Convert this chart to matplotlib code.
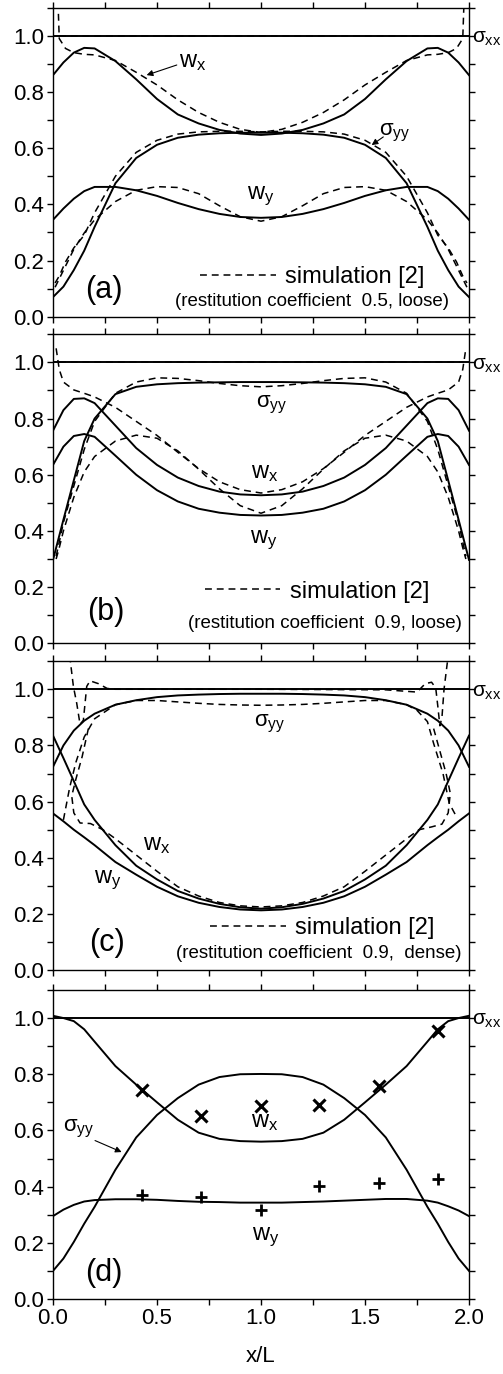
import matplotlib
matplotlib.use("Agg")
import matplotlib.pyplot as plt
from matplotlib.lines import Line2D
from matplotlib.ticker import MultipleLocator

plt.rcParams['font.family'] = ['Liberation Sans', 'DejaVu Sans']
plt.rcParams['mathtext.fontset'] = 'custom'
plt.rcParams['mathtext.rm'] = 'Liberation Sans'
plt.rcParams['mathtext.it'] = 'Liberation Sans'
plt.rcParams['mathtext.bf'] = 'Liberation Sans:bold'

# common x grid of the theory curves
x_th = [0, 0.05, 0.1, 0.15, 0.2, 0.3, 0.4, 0.5, 0.6, 0.7, 0.8, 0.9, 1.0,
        1.1, 1.2, 1.3, 1.4, 1.5, 1.6, 1.7, 1.8, 1.85, 1.9, 1.95, 2.0]

# ---- panel (a): restitution 0.5, loose
wx_a = [0.86, 0.905, 0.94, 0.957, 0.955, 0.91, 0.845, 0.775, 0.72, 0.688, 0.665, 0.652, 0.647,
        0.652, 0.665, 0.688, 0.72, 0.775, 0.845, 0.91, 0.955, 0.957, 0.94, 0.905, 0.86]
syy_a = [0.07, 0.107, 0.166, 0.235, 0.32, 0.475, 0.565, 0.612, 0.637, 0.648, 0.653, 0.655, 0.655,
         0.655, 0.653, 0.648, 0.637, 0.612, 0.565, 0.475, 0.32, 0.235, 0.166, 0.107, 0.07]
wy_a = [0.345, 0.385, 0.42, 0.447, 0.462, 0.462, 0.45, 0.43, 0.405, 0.383, 0.366, 0.355, 0.352,
        0.355, 0.366, 0.383, 0.405, 0.43, 0.45, 0.462, 0.462, 0.447, 0.42, 0.385, 0.345]

x_sim_a1 = [0.024, 0.03, 0.06, 0.1, 0.15, 0.2, 0.3, 0.4, 0.5, 0.6, 0.7, 0.8, 0.9, 1.0,
            1.1, 1.2, 1.3, 1.4, 1.5, 1.6, 1.7, 1.8, 1.85, 1.9, 1.94, 1.97, 1.976]
wx_sim_a = [1.12, 0.99, 0.955, 0.94, 0.934, 0.932, 0.912, 0.87, 0.825, 0.772, 0.727, 0.692, 0.667, 0.656,
            0.667, 0.692, 0.727, 0.772, 0.825, 0.87, 0.912, 0.932, 0.934, 0.94, 0.955, 0.99, 1.12]
x_sim_a2 = [0.01, 0.03, 0.06, 0.1, 0.15, 0.2, 0.3, 0.4, 0.5, 0.6, 0.7, 0.8, 0.9, 1.0,
            1.1, 1.2, 1.3, 1.4, 1.5, 1.6, 1.7, 1.8, 1.85, 1.9, 1.94, 1.97, 1.99]
syy_sim_a = [0.12, 0.145, 0.195, 0.245, 0.29, 0.37, 0.5, 0.585, 0.628, 0.65, 0.658, 0.66, 0.66, 0.658,
             0.66, 0.66, 0.658, 0.65, 0.628, 0.585, 0.5, 0.37, 0.29, 0.245, 0.195, 0.145, 0.12]
wy_sim_a = [0.105, 0.135, 0.18, 0.24, 0.298, 0.345, 0.41, 0.45, 0.463, 0.46, 0.438, 0.395, 0.356, 0.34,
            0.356, 0.395, 0.438, 0.46, 0.463, 0.45, 0.41, 0.345, 0.298, 0.24, 0.18, 0.135, 0.105]
x_sxx_sim_a = [0.03, 1.97]
sxx_sim_a = [1.0, 1.0]

# ---- panel (b): restitution 0.9, loose
wx_b = [0.757, 0.83, 0.87, 0.872, 0.855, 0.775, 0.695, 0.635, 0.59, 0.56, 0.54, 0.53, 0.527,
        0.53, 0.54, 0.56, 0.59, 0.635, 0.695, 0.775, 0.855, 0.872, 0.87, 0.83, 0.757]
wy_b = [0.635, 0.70, 0.738, 0.745, 0.735, 0.668, 0.60, 0.545, 0.505, 0.479, 0.465, 0.457, 0.455,
        0.457, 0.465, 0.479, 0.505, 0.545, 0.60, 0.668, 0.735, 0.745, 0.738, 0.70, 0.635]
syy_b = [0.297, 0.44, 0.58, 0.72, 0.80, 0.887, 0.913, 0.922, 0.926, 0.928, 0.929, 0.93, 0.93,
         0.93, 0.929, 0.928, 0.926, 0.922, 0.913, 0.887, 0.80, 0.72, 0.58, 0.44, 0.297]

x_sim_b = [0.015, 0.03, 0.05, 0.1, 0.15, 0.2, 0.3, 0.4, 0.5, 0.6, 0.7, 0.8, 0.9, 1.0,
           1.1, 1.2, 1.3, 1.4, 1.5, 1.6, 1.7, 1.8, 1.85, 1.9, 1.95, 1.97, 1.985]
wx_sim_b = [1.05, 0.975, 0.93, 0.902, 0.89, 0.877, 0.84, 0.79, 0.74, 0.68, 0.622, 0.575, 0.547, 0.535,
            0.547, 0.575, 0.622, 0.68, 0.74, 0.79, 0.84, 0.877, 0.89, 0.902, 0.93, 0.975, 1.05]
syy_sim_b = [0.31, 0.36, 0.43, 0.56, 0.69, 0.79, 0.89, 0.93, 0.945, 0.943, 0.935, 0.925, 0.917, 0.913,
             0.917, 0.925, 0.935, 0.943, 0.945, 0.93, 0.89, 0.79, 0.69, 0.56, 0.43, 0.36, 0.31]
wy_sim_b = [0.30, 0.34, 0.40, 0.52, 0.61, 0.665, 0.72, 0.741, 0.73, 0.685, 0.62, 0.55, 0.49, 0.463,
            0.49, 0.55, 0.62, 0.685, 0.73, 0.741, 0.72, 0.665, 0.61, 0.52, 0.40, 0.34, 0.30]
x_sxx_sim_b = [0.03, 1.97]
sxx_sim_b = [1.0, 1.0]

# ---- panel (c): restitution 0.9, dense
syy_c = [0.724, 0.80, 0.853, 0.888, 0.913, 0.945, 0.961, 0.972, 0.978, 0.981, 0.983, 0.984, 0.984,
         0.984, 0.983, 0.981, 0.978, 0.972, 0.961, 0.945, 0.913, 0.888, 0.853, 0.80, 0.724]
wx_c = [0.835, 0.755, 0.673, 0.59, 0.535, 0.445, 0.372, 0.323, 0.282, 0.255, 0.236, 0.224, 0.219,
        0.224, 0.236, 0.255, 0.282, 0.323, 0.372, 0.445, 0.535, 0.59, 0.673, 0.755, 0.835]
wy_c = [0.558, 0.53, 0.50, 0.473, 0.445, 0.385, 0.34, 0.297, 0.263, 0.24, 0.225, 0.216, 0.213,
        0.216, 0.225, 0.24, 0.263, 0.297, 0.34, 0.385, 0.445, 0.473, 0.50, 0.53, 0.558]

x_syy_sim_c = [0.05, 0.08, 0.11, 0.15, 0.2, 0.3, 0.4, 0.5, 0.6, 0.7, 0.8, 0.9, 1.0,
               1.1, 1.2, 1.3, 1.4, 1.5, 1.6, 1.7, 1.75, 1.8, 1.83, 1.875, 1.905, 1.94]
syy_sim_c = [0.535, 0.65, 0.74, 0.83, 0.895, 0.945, 0.96, 0.96, 0.955, 0.95, 0.946, 0.944, 0.943,
             0.944, 0.946, 0.95, 0.955, 0.96, 0.96, 0.945, 0.925, 0.885, 0.807, 0.70, 0.594, 0.546]
x_wx_sim_c = [0.17, 0.14, 0.11, 0.09, 0.1, 0.13, 0.18, 0.24, 0.3, 0.4, 0.5, 0.6, 0.7, 0.8, 0.9, 1.0,
              1.1, 1.2, 1.3, 1.4, 1.5, 1.6, 1.7, 1.76, 1.82, 1.87, 1.9, 1.91, 1.89, 1.86, 1.83]
wx_sim_c = [0.86, 0.76, 0.68, 0.62, 0.56, 0.524, 0.522, 0.50, 0.468, 0.41, 0.352, 0.297, 0.264, 0.241, 0.229, 0.225,
            0.229, 0.241, 0.264, 0.297, 0.352, 0.41, 0.468, 0.50, 0.51, 0.52, 0.56, 0.63, 0.70, 0.78, 0.86]
x_sxx_sim_c = [0.08, 0.098, 0.114, 0.13, 0.146, 0.162, 0.178, 0.218, 0.26, 0.3, 1.0, 1.6,
               1.75, 1.79, 1.82, 1.84, 1.85, 1.86, 1.87, 1.88, 1.9]
sxx_sim_c = [1.12, 1.01, 0.95, 0.875, 0.89, 1.01, 1.03, 1.02, 1.003, 1.0, 1.0, 0.998,
             0.99, 1.02, 1.025, 1.005, 0.94, 0.87, 0.9, 1.0, 1.12]

# ---- panel (d): theory vs data points
wx_d = [1.008, 1.0, 0.989, 0.96, 0.916, 0.829, 0.763, 0.70, 0.638, 0.592, 0.57, 0.562, 0.56,
        0.562, 0.57, 0.592, 0.638, 0.70, 0.763, 0.829, 0.916, 0.96, 0.989, 1.0, 1.008]
syy_d = [0.10, 0.144, 0.203, 0.268, 0.328, 0.46, 0.575, 0.655, 0.715, 0.763, 0.79, 0.8, 0.801,
         0.8, 0.79, 0.763, 0.715, 0.655, 0.575, 0.46, 0.328, 0.268, 0.203, 0.144, 0.10]
wy_d = [0.295, 0.318, 0.335, 0.347, 0.352, 0.355, 0.355, 0.353, 0.349, 0.346, 0.345, 0.343, 0.343,
        0.343, 0.345, 0.347, 0.35, 0.353, 0.356, 0.356, 0.35, 0.343, 0.33, 0.315, 0.295]
x_pts_d = [0.43, 0.713, 1.0, 1.28, 1.567, 1.853]
wx_pts_d = [0.745, 0.653, 0.686, 0.69, 0.757, 0.955]
wy_pts_d = [0.371, 0.362, 0.317, 0.401, 0.413, 0.428]

SOLID = dict(color='black', lw=1.4)
DASH = dict(color='black', lw=1.1, linestyle=(0, (4.5, 3.2)))

fig = plt.figure(figsize=(5.03, 13.74), dpi=100)
left, width, height = 0.1054, 0.827, 0.2249
bottoms = [0.7695, 0.5318, 0.2939, 0.0546]
axes = [fig.add_axes([left, b, width, height]) for b in bottoms]

for i, ax in enumerate(axes):
    ax.set_xlim(0, 2)
    ax.set_ylim(0, 1.1)
    ax.xaxis.set_major_locator(MultipleLocator(0.5))
    ax.xaxis.set_minor_locator(MultipleLocator(0.25))
    ax.yaxis.set_major_locator(MultipleLocator(0.2))
    ax.yaxis.set_minor_locator(MultipleLocator(0.1))
    ax.tick_params(which='both', direction='out', top=True, right=True,
                   length=4.5, width=1, labelsize=16, pad=2)
    ax.set_yticks([0, 0.2, 0.4, 0.6, 0.8, 1.0])
    ax.set_yticklabels(['0.0', '0.2', '0.4', '0.6', '0.8', '1.0'])
    for s in ax.spines.values():
        s.set_linewidth(1.0)
    if i < 3:
        ax.tick_params(labelbottom=False)
    ax.axhline(1.0, **SOLID)
    ax.text(2.015, 0.99, r'$\sigma_{xx}$', fontsize=15, ha='left', va='center',
            transform=ax.transData, clip_on=False)


def sim_legend(ax, xa, ya, sub, xs, ys):
    h = Line2D([], [], **DASH)
    ax.legend([h], ['simulation [2]'], loc='center left', bbox_to_anchor=(xa, ya),
              frameon=False, fontsize=17, handlelength=3.2, handletextpad=0.4,
              borderpad=0, borderaxespad=0)
    ax.text(xs, ys, sub, fontsize=13.5, ha='center', va='center')


def arrow(ax, start, tip):
    ax.annotate('', xy=tip, xytext=start,
                arrowprops=dict(arrowstyle='-|>', color='black', lw=0.8,
                                mutation_scale=9, shrinkA=0, shrinkB=0))


# (a)
ax = axes[0]
ax.plot(x_th, wx_a, **SOLID)
ax.plot(x_th, syy_a, **SOLID)
ax.plot(x_th, wy_a, **SOLID)
ax.plot(x_sxx_sim_a, sxx_sim_a, **DASH)
ax.plot(x_sim_a1, wx_sim_a, **DASH)
ax.plot(x_sim_a2, syy_sim_a, **DASH)
ax.plot(x_sim_a2, wy_sim_a, **DASH)
ax.text(0.67, 0.905, r'$w_x$', fontsize=17, ha='center', va='center')
arrow(ax, (0.595, 0.896), (0.45, 0.86))
ax.text(1.64, 0.655, r'$\sigma_{yy}$', fontsize=16, ha='center', va='center')
arrow(ax, (1.588, 0.64), (1.532, 0.611))
ax.text(1.0, 0.43, r'$w_y$', fontsize=17, ha='center', va='center')
ax.text(0.245, 0.095, '(a)', fontsize=22, ha='center', va='center')
sim_legend(ax, 0.3535, 0.129, '(restitution coefficient  0.5, loose)', 1.243, 0.053)

# (b)
ax = axes[1]
ax.plot(x_th, wx_b, **SOLID)
ax.plot(x_th, wy_b, **SOLID)
ax.plot(x_th, syy_b, **SOLID)
ax.plot(x_sxx_sim_b, sxx_sim_b, **DASH)
ax.plot(x_sim_b, wx_sim_b, **DASH)
ax.plot(x_sim_b, syy_sim_b, **DASH)
ax.plot(x_sim_b, wy_sim_b, **DASH)
ax.text(1.05, 0.849, r'$\sigma_{yy}$', fontsize=16, ha='center', va='center')
ax.text(1.015, 0.605, r'$w_x$', fontsize=17, ha='center', va='center')
ax.text(1.015, 0.368, r'$w_y$', fontsize=17, ha='center', va='center')
ax.text(0.255, 0.11, '(b)', fontsize=22, ha='center', va='center')
sim_legend(ax, 0.365, 0.167, '(restitution coefficient  0.9, loose)', 1.308, 0.071)

# (c)
ax = axes[2]
ax.plot(x_th, syy_c, **SOLID)
ax.plot(x_th, wx_c, **SOLID)
ax.plot(x_th, wy_c, **SOLID)
ax.plot(x_sxx_sim_c, sxx_sim_c, **DASH)
ax.plot(x_syy_sim_c, syy_sim_c, **DASH)
ax.plot(x_wx_sim_c, wx_sim_c, **DASH)
ax.text(1.04, 0.878, r'$\sigma_{yy}$', fontsize=16, ha='center', va='center')
ax.text(0.5, 0.445, r'$w_x$', fontsize=17, ha='center', va='center')
ax.text(0.265, 0.32, r'$w_y$', fontsize=17, ha='center', va='center')
ax.text(0.26, 0.095, '(c)', fontsize=22, ha='center', va='center')
sim_legend(ax, 0.3775, 0.1355, '(restitution coefficient  0.9,  dense)', 1.276, 0.06)

# (d)
ax = axes[3]
ax.plot(x_th, wx_d, **SOLID)
ax.plot(x_th, syy_d, **SOLID)
ax.plot(x_th, wy_d, **SOLID)
ax.plot(x_pts_d, wx_pts_d, linestyle='none', marker='x', color='black', ms=8, mew=2.2)
ax.plot(x_pts_d, wy_pts_d, linestyle='none', marker='+', color='black', ms=8, mew=2.0)
ax.text(0.125, 0.606, r'$\sigma_{yy}$', fontsize=16, ha='center', va='center')
arrow(ax, (0.202, 0.564), (0.33, 0.523))
ax.text(1.015, 0.63, r'$w_x$', fontsize=17, ha='center', va='center')
ax.text(1.02, 0.221, r'$w_y$', fontsize=17, ha='center', va='center')
ax.text(0.245, 0.093, '(d)', fontsize=22, ha='center', va='center')
ax.set_xticks([0, 0.5, 1.0, 1.5, 2.0])
ax.set_xticklabels(['0.0', '0.5', '1.0', '1.5', '2.0'])
ax.set_xlabel('x/L', fontsize=16, labelpad=12)

fig.savefig('out.png', dpi=100)
